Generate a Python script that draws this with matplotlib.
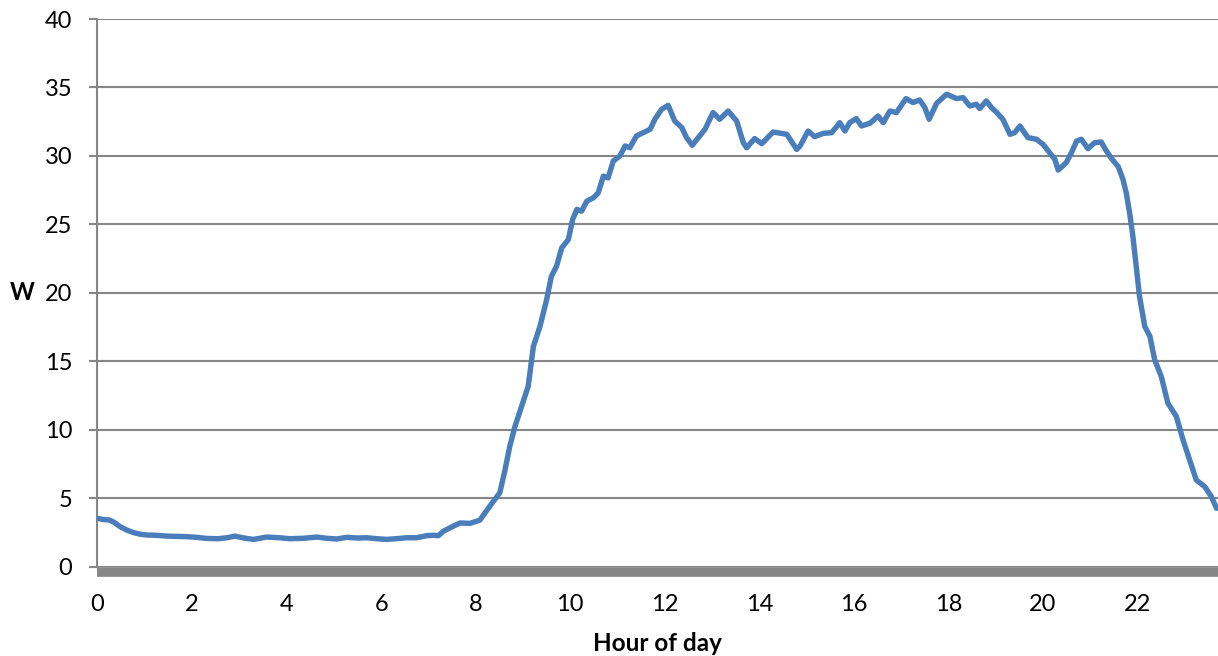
import matplotlib.pyplot as plt

plt.rcParams['font.family'] = ['Lato', 'DejaVu Sans']

# hour of day and mean power (W)
hours = [0.00, 0.12, 0.25, 0.35, 0.48, 0.62, 0.76, 0.90, 1.04, 1.25,
         1.47, 1.70, 1.89, 2.10, 2.31, 2.55, 2.74, 2.91, 3.10, 3.30,
         3.58, 3.85, 4.07, 4.35, 4.64, 4.85, 5.06, 5.27, 5.50, 5.70,
         5.90, 6.12, 6.35, 6.54, 6.75, 6.96, 7.10, 7.21, 7.32, 7.53,
         7.67, 7.88, 8.09, 8.23, 8.37, 8.51, 8.62, 8.72, 8.83, 8.97,
         9.11, 9.22, 9.36, 9.50, 9.60, 9.71, 9.82, 9.96, 10.05, 10.14,
         10.24, 10.35, 10.49, 10.59, 10.70, 10.80, 10.91, 11.05, 11.16, 11.26,
         11.40, 11.54, 11.69, 11.79, 11.93, 12.07, 12.21, 12.36, 12.46, 12.58,
         12.71, 12.85, 13.02, 13.16, 13.34, 13.52, 13.66, 13.73, 13.90, 14.05,
         14.29, 14.58, 14.79, 14.86, 15.03, 15.17, 15.35, 15.53, 15.70, 15.81,
         15.91, 16.05, 16.16, 16.34, 16.51, 16.62, 16.76, 16.90, 17.10, 17.25,
         17.39, 17.50, 17.59, 17.75, 17.96, 18.17, 18.31, 18.45, 18.59, 18.66,
         18.80, 18.91, 19.02, 19.15, 19.30, 19.40, 19.51, 19.68, 19.86, 20.00,
         20.14, 20.25, 20.32, 20.49, 20.60, 20.71, 20.81, 20.95, 21.09, 21.23,
         21.34, 21.45, 21.59, 21.69, 21.76, 21.83, 21.90, 21.97, 22.04, 22.15,
         22.26, 22.36, 22.50, 22.64, 22.82, 22.96, 23.10, 23.24, 23.42, 23.56,
         23.67]
watts = [3.54, 3.45, 3.42, 3.25, 2.93, 2.68, 2.50, 2.38, 2.32, 2.30,
         2.24, 2.22, 2.20, 2.15, 2.07, 2.05, 2.12, 2.24, 2.10, 2.00,
         2.17, 2.12, 2.05, 2.08, 2.17, 2.08, 2.03, 2.15, 2.10, 2.12,
         2.05, 2.00, 2.06, 2.12, 2.12, 2.27, 2.30, 2.27, 2.60, 2.97,
         3.20, 3.17, 3.41, 4.10, 4.76, 5.40, 7.07, 8.78, 10.24, 11.70,
         13.17, 16.09, 17.56, 19.50, 21.20, 21.95, 23.29, 23.90, 25.36, 26.10,
         25.97, 26.70, 26.95, 27.30, 28.53, 28.40, 29.63, 30.00, 30.73, 30.60,
         31.46, 31.70, 31.95, 32.68, 33.40, 33.70, 32.55, 32.07, 31.34, 30.78,
         31.34, 31.95, 33.17, 32.68, 33.28, 32.55, 30.97, 30.60, 31.27, 30.90,
         31.75, 31.58, 30.48, 30.73, 31.82, 31.41, 31.65, 31.70, 32.43, 31.82,
         32.43, 32.73, 32.19, 32.39, 32.92, 32.43, 33.28, 33.17, 34.19, 33.90,
         34.09, 33.53, 32.68, 33.85, 34.51, 34.19, 34.26, 33.65, 33.78, 33.46,
         34.02, 33.53, 33.17, 32.68, 31.58, 31.70, 32.19, 31.34, 31.22, 30.85,
         30.24, 29.75, 28.97, 29.51, 30.24, 31.09, 31.22, 30.53, 30.97, 31.02,
         30.36, 29.80, 29.22, 28.29, 27.30, 25.85, 24.14, 21.95, 19.75, 17.56,
         16.83, 15.12, 13.90, 11.95, 10.97, 9.27, 7.80, 6.34, 5.85, 5.12,
         4.27]

x_ticks = [0, 2, 4, 6, 8, 10, 12, 14, 16, 18, 20, 22]
y_ticks = [0, 5, 10, 15, 20, 25, 30, 35, 40]

grey = '#868686'

fig = plt.figure(figsize=(12.18, 6.56), dpi=100)
ax = fig.add_axes([0.08, 0.136, 0.92, 0.835])

ax.plot(hours, watts, color='#4a7ebb', linewidth=3.9, solid_capstyle='round',
        solid_joinstyle='round', zorder=3)

ax.set_xlim(0, 23.7)
ax.set_ylim(0, 40)
ax.set_xticks(x_ticks)
ax.set_yticks(y_ticks)
ax.yaxis.grid(True, color=grey, linewidth=1.5)
ax.set_axisbelow(True)

for side in ['top', 'right']:
    ax.spines[side].set_visible(False)
ax.spines['left'].set_color(grey)
ax.spines['left'].set_linewidth(1.5)
ax.spines['bottom'].set_color(grey)
ax.spines['bottom'].set_linewidth(7)
ax.spines['bottom'].set_position(('outward', 3.5))
ax.spines['bottom'].set_capstyle('butt')

ax.tick_params(axis='y', length=6, width=1.5, color=grey, labelsize=17, pad=12)
ax.tick_params(axis='x', length=0, labelsize=17, pad=16)

ax.set_xlabel('Hour of day', fontsize=17.5, fontweight='bold', labelpad=12)
ax.set_ylabel('W', fontsize=17, fontweight='bold', rotation=0, labelpad=16,
              va='center')

fig.savefig('out.png', dpi=100)
